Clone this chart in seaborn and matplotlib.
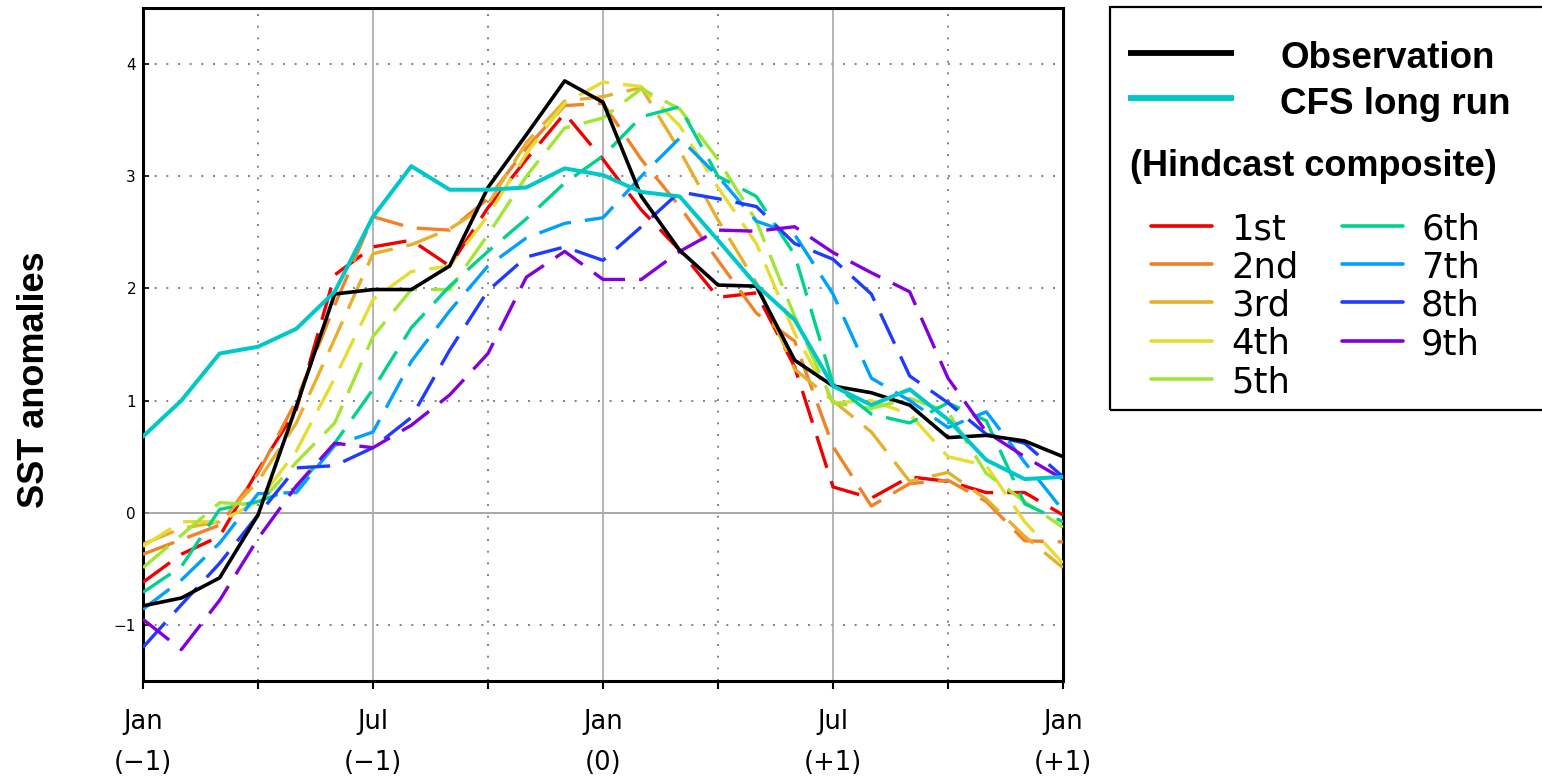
import numpy as np
import pandas as pd
import matplotlib
matplotlib.use("Agg")
import matplotlib.pyplot as plt
import seaborn as sns
from matplotlib.lines import Line2D
from matplotlib.patches import Rectangle

# ---------------- data ----------------
months = list(range(25))  # Jan(-1) ... Jan(+1)
tick_positions = [0, 3, 6, 9, 12, 15, 18, 21, 24]
tick_labels = ["Jan\n(\u22121)", "", "Jul\n(\u22121)", "", "Jan\n(0)", "",
               "Jul\n(+1)", "", "Jan\n(+1)"]

observation = [-0.83, -0.76, -0.58, -0.02, 0.95, 1.95, 1.99, 1.99, 2.20, 2.90,
               3.37, 3.85, 3.66, 2.82, 2.34, 2.03, 2.02, 1.36, 1.13, 1.07,
               0.96, 0.67, 0.69, 0.64, 0.50]
cfs_long_run = [0.68, 1.00, 1.42, 1.48, 1.64, 1.97, 2.64, 3.09, 2.88, 2.88,
                2.90, 3.07, 3.01, 2.86, 2.82, 2.43, 2.03, 1.72, 1.13, 0.96,
                1.10, 0.83, 0.47, 0.30, 0.32]

lead_1st = [-0.62, -0.37, -0.21, 0.38, 0.92, 2.12, 2.37, 2.43, 2.20, 2.72,
            3.15, 3.56, 3.15, 2.70, 2.34, 1.92, 1.96, 1.30, 0.23, 0.13,
            0.32, 0.28, 0.18, 0.18, -0.02]
lead_2nd = [-0.37, -0.24, -0.11, 0.35, 1.00, 1.85, 2.64, 2.54, 2.52, 2.80,
            3.25, 3.63, 3.65, 3.15, 2.73, 2.25, 1.78, 1.53, 0.59, 0.06,
            0.26, 0.29, 0.10, -0.25, -0.26]
lead_3rd = [-0.28, -0.14, -0.08, 0.28, 0.80, 1.55, 2.31, 2.39, 2.53, 2.75,
            3.30, 3.67, 3.71, 3.79, 3.23, 2.61, 2.05, 1.28, 1.00, 0.72,
            0.28, 0.36, 0.12, -0.21, -0.49]
lead_4th = [-0.30, -0.08, -0.08, 0.10, 0.55, 1.20, 1.90, 2.15, 2.20, 2.65,
            3.20, 3.65, 3.84, 3.80, 3.45, 2.90, 2.40, 1.60, 0.98, 1.00,
            0.88, 0.50, 0.42, -0.08, -0.45]
lead_5th = [-0.49, -0.20, 0.09, 0.07, 0.45, 0.80, 1.57, 1.99, 1.99, 2.48,
            3.00, 3.43, 3.52, 3.78, 3.60, 3.15, 2.60, 1.75, 0.98, 0.93,
            1.02, 0.90, 0.35, 0.10, -0.13]
lead_6th = [-0.71, -0.48, 0.03, 0.10, 0.22, 0.62, 1.10, 1.65, 2.02, 2.33,
            2.62, 2.94, 3.18, 3.53, 3.62, 3.00, 2.82, 2.30, 1.15, 0.88,
            0.80, 0.98, 0.82, 0.08, -0.08]
lead_7th = [-0.86, -0.60, -0.27, 0.17, 0.18, 0.60, 0.72, 1.35, 1.80, 2.20,
            2.45, 2.58, 2.63, 3.00, 3.34, 3.00, 2.60, 2.48, 1.95, 1.20,
            1.00, 0.76, 0.90, 0.45, 0.02]
lead_8th = [-1.20, -0.82, -0.45, -0.02, 0.40, 0.42, 0.58, 0.85, 1.45, 1.98,
            2.28, 2.37, 2.25, 2.55, 2.86, 2.80, 2.73, 2.40, 2.26, 1.95,
            1.22, 0.98, 0.70, 0.62, 0.32]
lead_9th = [-0.95, -1.22, -0.78, -0.23, 0.24, 0.62, 0.58, 0.78, 1.05, 1.42,
            2.10, 2.33, 2.08, 2.08, 2.33, 2.52, 2.51, 2.55, 2.32, 2.14,
            1.97, 1.20, 0.72, 0.50, 0.30]

lead_names = ["1st", "2nd", "3rd", "4th", "5th", "6th", "7th", "8th", "9th"]
lead_values = [lead_1st, lead_2nd, lead_3rd, lead_4th, lead_5th,
               lead_6th, lead_7th, lead_8th, lead_9th]
lead_colors = ["#f00000", "#f08228", "#e6af2d", "#e6dc32", "#a0e632",
               "#00d28c", "#00a0ff", "#1e3cff", "#8200dc"]

# ---------------- figure ----------------
sns.set_theme(style="white")
plt.rcParams["font.family"] = ["DejaVu Sans"]
plt.rcParams["axes.unicode_minus"] = True
for key in ["text.color", "axes.labelcolor", "xtick.color", "ytick.color",
            "axes.edgecolor"]:
    plt.rcParams[key] = "black"

W, H = 1542, 779
fig = plt.figure(figsize=(W / 100, H / 100), dpi=100, facecolor="white")
ax = fig.add_axes([143 / W, 1 - 681 / H, 920 / W, 673 / H])
ax.set_facecolor("white")

# reference grid
grid_col = "#808080"
for yv in [-1, 1, 2, 3, 4]:
    ax.axhline(yv, color=grid_col, lw=1.4, ls=(0, (1, 5)), zorder=1)
ax.axhline(0, color="#9a9a9a", lw=1.2, zorder=1)
for xv in [3, 9, 15, 21]:
    ax.axvline(xv, color=grid_col, lw=1.4, ls=(0, (1, 5)), zorder=1)
for xv in [6, 12, 18]:
    ax.axvline(xv, color="#a8a8a8", lw=1.2, zorder=1)

# hindcast leads
for name, vals, col in zip(lead_names, lead_values, lead_colors):
    df = pd.DataFrame({"month": months, "sst": vals})
    sns.lineplot(data=df, x="month", y="sst", ax=ax, color=col, lw=2.4,
                 legend=False, zorder=3)
    ax.lines[-1].set_dashes((10, 4.2))

df_obs = pd.DataFrame({"month": months, "sst": observation})
sns.lineplot(data=df_obs, x="month", y="sst", ax=ax, color="black", lw=2.6,
             legend=False, zorder=5)
df_cfs = pd.DataFrame({"month": months, "sst": cfs_long_run})
sns.lineplot(data=df_cfs, x="month", y="sst", ax=ax, color="#00c8c8", lw=2.9,
             legend=False, zorder=6)

ax.set_xlim(0, 24)
ax.set_ylim(-1.5, 4.5)
ax.set_xticks(tick_positions)
ax.set_xticklabels(tick_labels, fontsize=18.5, linespacing=1.75)
ax.set_yticks([-1, 0, 1, 2, 3, 4])
ax.set_yticklabels(["\u22121", "0", "1", "2", "3", "4"], fontsize=11)
ax.tick_params(axis="x", direction="out", length=6, width=1.5, pad=14,
               colors="black", bottom=True)
ax.tick_params(axis="y", direction="in", length=4, width=1.2, pad=5,
               colors="black", left=True)
ax.set_xlabel("")
ax.set_ylabel("")
for sp in ax.spines.values():
    sp.set_visible(True)
    sp.set_color("black")
    sp.set_linewidth(2.2)

bold_font = ["Liberation Sans", "DejaVu Sans"]
fig.text(35 / W, 1 - 380 / H, "SST anomalies", rotation=90, fontsize=26,
         fontweight="bold", family=bold_font, ha="center", va="center",
         color="black")

# ---------------- legend ----------------
def fx(px):
    return px / W

def fy(py):
    return 1 - py / H

fig.add_artist(Rectangle((fx(1110), fy(410)), fx(1560) - fx(1110),
                         fy(7) - fy(410), transform=fig.transFigure,
                         fill=False, ec="black", lw=1.6))

fig.add_artist(Line2D([fx(1128), fx(1234)], [fy(53), fy(53)], color="black",
                      lw=4.2, transform=fig.transFigure, solid_capstyle="butt"))
fig.text(fx(1280), fy(68.5), "Observation", fontsize=26.5, fontweight="bold",
         family=bold_font, ha="left", va="baseline", color="black")
fig.add_artist(Line2D([fx(1128), fx(1234)], [fy(98), fy(98)], color="#00c8c8",
                      lw=4.2, transform=fig.transFigure, solid_capstyle="butt"))
fig.text(fx(1280), fy(113.5), "CFS long run", fontsize=26.5, fontweight="bold",
         family=bold_font, ha="left", va="baseline", color="black")
fig.text(fx(1130), fy(176), "(Hindcast composite)", fontsize=26,
         fontweight="bold", family=bold_font, ha="left", va="baseline",
         color="black")

row_y = [226, 264, 302.3, 340.7, 379]
for i, (name, col) in enumerate(zip(lead_names, lead_colors)):
    c = i // 5
    r = i % 5
    lx0, lx1, tx = (1151, 1212, 1231) if c == 0 else (1342, 1403, 1421)
    y = row_y[r]
    fig.add_artist(Line2D([fx(lx0), fx(lx1)], [fy(y), fy(y)], color=col,
                          lw=2.6, transform=fig.transFigure,
                          solid_capstyle="round"))
    fig.text(fx(tx), fy(y + 13.5), name, fontsize=25.5, family=["DejaVu Sans"],
             ha="left", va="baseline", color="black")

fig.savefig("out.png", dpi=100, facecolor="white")
